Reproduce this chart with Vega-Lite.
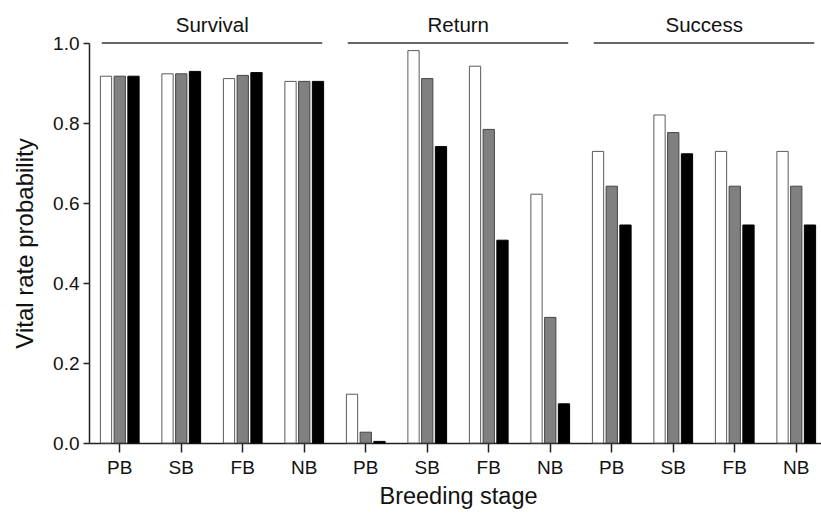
{
  "$schema": "https://vega.github.io/schema/vega-lite/v6.json",
  "autosize": "none",
  "padding": {"left": 89, "top": 43, "right": 0, "bottom": 71},
  "width": 732,
  "height": 400,
  "config": {
    "view": {"stroke": null},
    "font": "Liberation Sans",
    "axis": {
      "domainColor": "#222",
      "tickColor": "#222",
      "domainWidth": 1.5,
      "tickWidth": 1.5,
      "labelColor": "#111",
      "titleColor": "#111",
      "labelFont": "Liberation Sans",
      "titleFont": "Liberation Sans",
      "titleFontWeight": "normal",
      "grid": false
    }
  },
  "datasets": {
    "groups": [
      {"group": "Survival", "first": "Survival PB", "last": "Survival NB", "mid": "Survival SB"},
      {"group": "Return", "first": "Return PB", "last": "Return NB", "mid": "Return SB"},
      {"group": "Success", "first": "Success PB", "last": "Success NB", "mid": "Success SB"}
    ]
  },
  "data": {
    "values": [
      {"slot": "Survival PB", "series": "s1", "value": 0.917},
      {"slot": "Survival PB", "series": "s2", "value": 0.917},
      {"slot": "Survival PB", "series": "s3", "value": 0.917},
      {"slot": "Survival SB", "series": "s1", "value": 0.923},
      {"slot": "Survival SB", "series": "s2", "value": 0.923},
      {"slot": "Survival SB", "series": "s3", "value": 0.929},
      {"slot": "Survival FB", "series": "s1", "value": 0.911},
      {"slot": "Survival FB", "series": "s2", "value": 0.919},
      {"slot": "Survival FB", "series": "s3", "value": 0.926},
      {"slot": "Survival NB", "series": "s1", "value": 0.904},
      {"slot": "Survival NB", "series": "s2", "value": 0.904},
      {"slot": "Survival NB", "series": "s3", "value": 0.904},
      {"slot": "Return PB", "series": "s1", "value": 0.122},
      {"slot": "Return PB", "series": "s2", "value": 0.027},
      {"slot": "Return PB", "series": "s3", "value": 0.004},
      {"slot": "Return SB", "series": "s1", "value": 0.981},
      {"slot": "Return SB", "series": "s2", "value": 0.911},
      {"slot": "Return SB", "series": "s3", "value": 0.741},
      {"slot": "Return FB", "series": "s1", "value": 0.942},
      {"slot": "Return FB", "series": "s2", "value": 0.784},
      {"slot": "Return FB", "series": "s3", "value": 0.507},
      {"slot": "Return NB", "series": "s1", "value": 0.622},
      {"slot": "Return NB", "series": "s2", "value": 0.314},
      {"slot": "Return NB", "series": "s3", "value": 0.098},
      {"slot": "Success PB", "series": "s1", "value": 0.729},
      {"slot": "Success PB", "series": "s2", "value": 0.642},
      {"slot": "Success PB", "series": "s3", "value": 0.545},
      {"slot": "Success SB", "series": "s1", "value": 0.82},
      {"slot": "Success SB", "series": "s2", "value": 0.776},
      {"slot": "Success SB", "series": "s3", "value": 0.723},
      {"slot": "Success FB", "series": "s1", "value": 0.729},
      {"slot": "Success FB", "series": "s2", "value": 0.642},
      {"slot": "Success FB", "series": "s3", "value": 0.545},
      {"slot": "Success NB", "series": "s1", "value": 0.729},
      {"slot": "Success NB", "series": "s2", "value": 0.642},
      {"slot": "Success NB", "series": "s3", "value": 0.545}
    ]
  },
  "layer": [
    {
      "mark": {"type": "bar", "strokeWidth": 1},
      "encoding": {
        "x": {
          "field": "slot",
          "type": "nominal",
          "title": "Breeding stage",
          "scale": {
            "domain": ["Survival PB", "Survival SB", "Survival FB", "Survival NB", "Return PB", "Return SB", "Return FB", "Return NB", "Success PB", "Success SB", "Success FB", "Success NB"],
            "range": [0, 738],
            "paddingInner": 0.37,
            "paddingOuter": 0.185
          },
          "axis": {
            "title": "Breeding stage",
            "labelExpr": "split(datum.label, ' ')[1]",
            "labelAngle": 0,
            "labelFontSize": 19,
            "titleFontSize": 23.5,
            "tickSize": 9,
            "labelPadding": 6,
            "titlePadding": 7
          }
        },
        "xOffset": {
          "field": "series",
          "type": "nominal",
          "scale": {"domain": ["s1", "s2", "s3"], "paddingInner": 0.18, "paddingOuter": 0}
        },
        "y": {
          "field": "value",
          "type": "quantitative",
          "title": "Vital rate probability",
          "scale": {"domain": [0, 1]},
          "axis": {
            "title": "Vital rate probability",
            "values": [0, 0.2, 0.4, 0.6, 0.8, 1.0],
            "format": ".1f",
            "labelFontSize": 19,
            "titleFontSize": 24,
            "tickSize": 6,
            "labelPadding": 4,
            "titlePadding": 15
          }
        },
        "fill": {
          "field": "series",
          "type": "nominal",
          "scale": {"domain": ["s1", "s2", "s3"], "range": ["#ffffff", "#808080", "#000000"]},
          "legend": null
        },
        "stroke": {
          "field": "series",
          "type": "nominal",
          "scale": {"domain": ["s1", "s2", "s3"], "range": ["#5a5a5a", "#444444", "#000000"]},
          "legend": null
        }
      }
    },
    {
      "data": {"name": "groups"},
      "mark": {"type": "rule", "xOffset": -18, "x2Offset": 18, "color": "#333", "strokeWidth": 1.5},
      "encoding": {
        "x": {"field": "first", "type": "nominal", "title": "Breeding stage"},
        "x2": {"field": "last"},
        "y": {"datum": 1, "type": "quantitative", "title": "Vital rate probability"}
      }
    },
    {
      "data": {"name": "groups"},
      "mark": {"type": "text", "dx": 31, "dy": -11, "fontSize": 20.5, "color": "#111", "baseline": "alphabetic"},
      "encoding": {
        "x": {"field": "mid", "type": "nominal", "title": "Breeding stage"},
        "y": {"datum": 1, "type": "quantitative", "title": "Vital rate probability"},
        "text": {"field": "group"}
      }
    }
  ]
}
